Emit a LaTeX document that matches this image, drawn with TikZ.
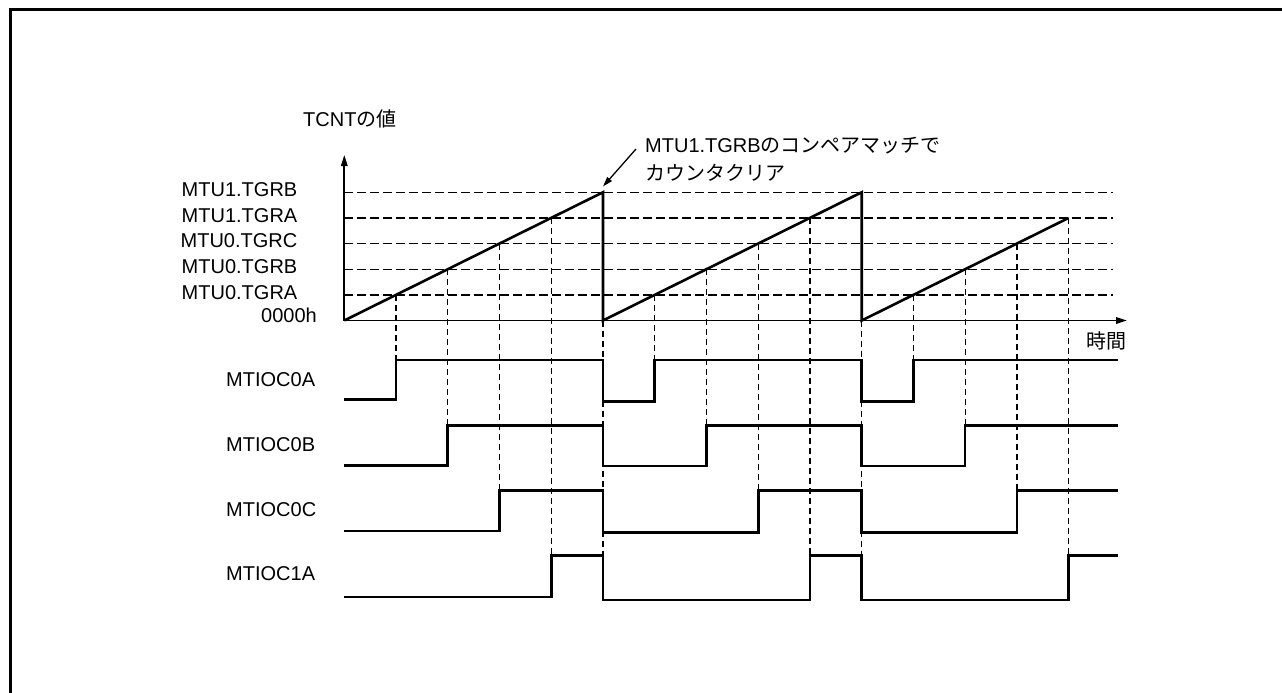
\documentclass[tikz,border=0pt]{standalone}
\usepackage{fontspec}
\setmainfont{Liberation Sans}
\newfontfamily\jp{Noto Sans CJK JP}
\usetikzlibrary{arrows.meta}
\begin{document}
\begin{tikzpicture}[x=1pt,y=-1pt,
  txt/.style={inner sep=0pt,font=\fontsize{20}{24}\selectfont},
  frameline/.style={line width=3pt},
  axisline/.style={line width=1.7pt,-{Triangle[length=11pt,width=6.5pt]}},
  ramp/.style={line width=2.6pt,line join=miter},
  wave/.style={line width=2.6pt,line join=miter},
  hdash/.style={line width=1.3pt,dash pattern=on 8.5pt off 4.5pt},
  vdash/.style={line width=1.3pt,dash pattern=on 6pt off 4pt},
  callout/.style={line width=1.3pt,-{Triangle[length=10pt,width=6pt]}}]
\useasboundingbox (0,0) rectangle (1282,693);
% frame (top and left edges only)
\draw[frameline] (9,9.5) -- (1282,9.5);
\draw[frameline] (10.5,8) -- (10.5,693);

% coordinates
\coordinate (O) at (344.3,320.5);
\coordinate (ytip) at (344.3,155);
\coordinate (xtip) at (1127,320.5);

% horizontal dashed level lines
\foreach \y in {294.85,269.2,243.55,217.9,192.25}
  \draw[hdash] (344.3,\y) -- (1113,\y);

% vertical dashed lines
\foreach \x/\ya/\yb in {396.04/294.85/360, 447.78/269.2/425.3, 499.52/243.55/490.7, 551.26/217.9/555.3, 603/320.5/555.3,
  654.74/294.85/360, 706.48/269.2/425.3, 758.22/243.55/490.7, 809.96/217.9/555.3, 861.7/320.5/555.3,
  913.44/294.85/360, 965.18/269.2/425.3, 1016.92/243.55/490.7, 1068.66/217.9/555.3}
  \draw[vdash] (\x,\ya) -- (\x,\yb);

% axes
\draw[axisline] (O) -- (ytip);
\draw[axisline] (O) -- (xtip);

% counter ramp
\draw[ramp] (O) -- (603,192.25) -- (603,320.5) -- (861.7,192.25) -- (861.7,320.5) -- (1068.66,217.9);

% waveforms
\draw[wave] (344.3,399.5) -- (396.04,399.5) -- (396.04,360) -- (603,360) -- (603,401.5) -- (654.74,401.5) -- (654.74,360) -- (861.7,360) -- (861.7,401.5) -- (913.44,401.5) -- (913.44,360) -- (1118,360);
\draw[wave] (344.3,465.3) -- (447.78,465.3) -- (447.78,425.3) -- (603,425.3) -- (603,465.8) -- (706.48,465.8) -- (706.48,425.3) -- (861.7,425.3) -- (861.7,465.8) -- (965.18,465.8) -- (965.18,425.3) -- (1118,425.3);
\draw[wave] (344.3,531) -- (499.52,531) -- (499.52,490.7) -- (603,490.7) -- (603,532.5) -- (758.22,532.5) -- (758.22,490.7) -- (861.7,490.7) -- (861.7,532.5) -- (1016.92,532.5) -- (1016.92,490.7) -- (1118,490.7);
\draw[wave] (344.3,596.8) -- (551.26,596.8) -- (551.26,555.3) -- (603,555.3) -- (603,600) -- (809.96,600) -- (809.96,555.3) -- (861.7,555.3) -- (861.7,600) -- (1068.66,600) -- (1068.66,555.3) -- (1118,555.3);

% callout
\coordinate (cs) at (636,149);
\coordinate (ce) at (603,186.5);
\draw[callout] (cs) -- (ce);
\node[txt,anchor=base west] (ann1) at (645,152.7) {MTU1.TGRB\jp のコンペアマッチで};
\node[txt,anchor=base west] (ann2) at (645,180) {\jp カウンタクリア};

% axis labels
\node[txt,anchor=base west] (ylab) at (303,126.3) {TCNT\jp の値};
\node[txt,anchor=base west] (xlab) at (1086.7,348) {\jp 時間};

% level labels
\node[txt,anchor=base east] (l5) at (297.5,196.7) {MTU1.TGRB};
\node[txt,anchor=base east] (l4) at (297.5,222.3) {MTU1.TGRA};
\node[txt,anchor=base east] (l3) at (297.5,247.9) {MTU0.TGRC};
\node[txt,anchor=base east] (l2) at (297.5,273.5) {MTU0.TGRB};
\node[txt,anchor=base east] (l1) at (297.5,299.1) {MTU0.TGRA};
\node[txt,anchor=base east] (l0) at (317,322) {0000h};

% signal labels
\node[txt,anchor=base west] (s1) at (226,386) {MTIOC0A};
\node[txt,anchor=base west] (s2) at (226,451) {MTIOC0B};
\node[txt,anchor=base west] (s3) at (226,516) {MTIOC0C};
\node[txt,anchor=base west] (s4) at (226,580.7) {MTIOC1A};
\end{tikzpicture}
\end{document}
